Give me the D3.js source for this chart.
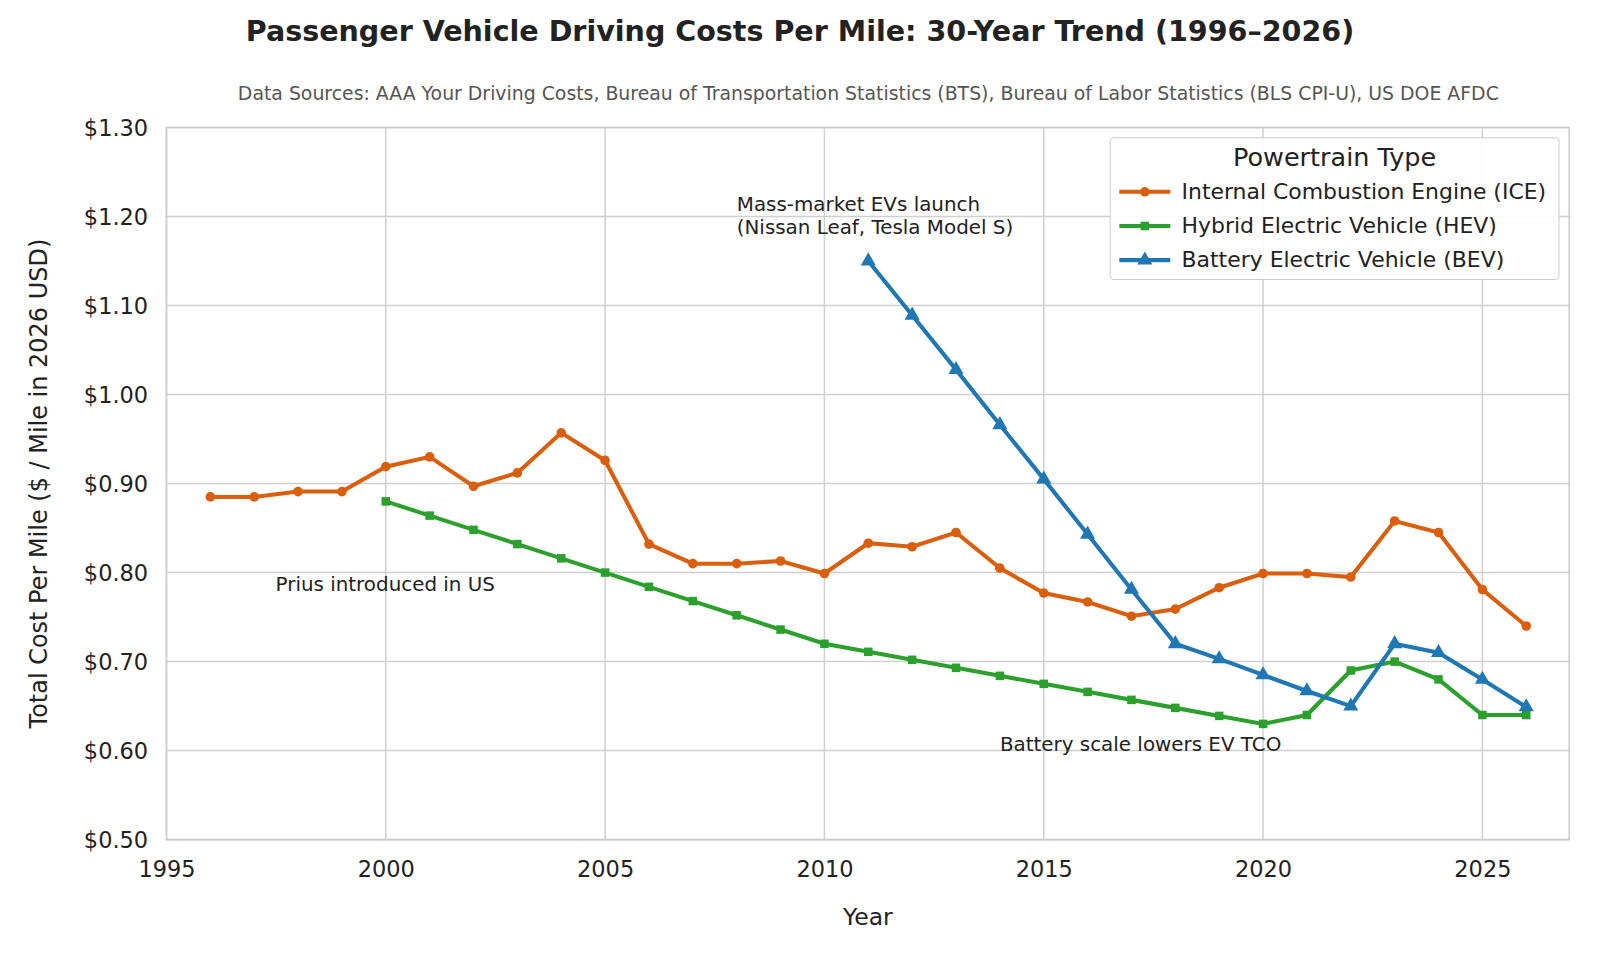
<!DOCTYPE html><html><head><meta charset="utf-8"><script src="https://cdn.jsdelivr.net/npm/d3@7"></script>
<style>body{margin:0;background:#fff}text{font-family:"DejaVu Sans",sans-serif}</style></head><body><svg id="c" width="1600" height="960" viewBox="0 0 1568 941"></svg>
<script>
const iceYears=d3.range(1996,2027);
const iceVals=[.885,.885,.891,.891,.919,.930,.897,.912,.957,.926,.832,.810,.810,.813,.799,.833,.829,.845,.805,.777,.767,.751,.759,.783,.799,.799,.795,.858,.845,.781,.740];
const hevYears=d3.range(2000,2027);
const hevVals=[.880,.864,.848,.832,.816,.800,.784,.768,.752,.736,.720,.711,.702,.693,.684,.675,.666,.657,.648,.639,.630,.640,.690,.700,.680,.640,.640];
const bevYears=d3.range(2011,2027);
const bevVals=[1.150,1.089,1.028,.966,.905,.843,.781,.720,.703,.685,.667,.650,.720,.710,.680,.649];
const xTicks=[1995,2000,2005,2010,2015,2020,2025];
const yTicks=[.5,.6,.7,.8,.9,1.0,1.1,1.2,1.3];
const series=[
 {name:"Internal Combustion Engine (ICE)",years:iceYears,vals:iceVals,color:"#d95f0e",sym:d3.symbolCircle},
 {name:"Hybrid Electric Vehicle (HEV)",years:hevYears,vals:hevVals,color:"#2ca02c",sym:d3.symbolSquare},
 {name:"Battery Electric Vehicle (BEV)",years:bevYears,vals:bevVals,color:"#1f77b4",sym:d3.symbolTriangle}];
const svg=d3.select("#c");
const L=163,R=1538,T=125,B=823;
const x=d3.scaleLinear().domain([1995,2026.98]).range([L,R]);
const y=d3.scaleLinear().domain([.5,1.3]).range([B,T]);
const g=svg.append("g");
g.selectAll(".gx").data(xTicks).join("line").attr("x1",d=>x(d)).attr("x2",d=>x(d)).attr("y1",T).attr("y2",B).attr("stroke","#d0d0d0").attr("stroke-width",1.5);
g.selectAll(".gy").data(yTicks).join("line").attr("y1",d=>y(d)).attr("y2",d=>y(d)).attr("x1",L).attr("x2",R).attr("stroke","#d0d0d0").attr("stroke-width",1.5);
g.append("rect").attr("x",L).attr("y",T).attr("width",R-L).attr("height",B-T).attr("fill","none").attr("stroke","#ccc").attr("stroke-width",1.5);
const xa=svg.append("g").attr("transform",`translate(0,${B})`).call(d3.axisBottom(x).tickValues(xTicks).tickFormat(d3.format("d")).tickSize(0).tickPadding(21));
const ya=svg.append("g").attr("transform",`translate(${L},0)`).call(d3.axisLeft(y).tickValues(yTicks).tickFormat(d=>"$"+d.toFixed(2)).tickSize(0).tickPadding(18));
[xa,ya].forEach(a=>{a.select(".domain").remove();a.selectAll("text").attr("font-size",22).attr("fill","#222")});
ya.selectAll("text").attr("dy","0.35em");
series.forEach(s=>{
 const pts=s.years.map((yr,i)=>[yr,s.vals[i]]);
 svg.append("path").attr("d",d3.line().x(d=>x(d[0])).y(d=>y(d[1]))(pts)).attr("fill","none").attr("stroke",s.color).attr("stroke-width",4);
 svg.selectAll(null).data(pts).join("path").attr("transform",d=>`translate(${x(d[0])},${y(d[1])})`).attr("d",d3.symbol(s.sym,s.sym===d3.symbolTriangle?95:70)).attr("fill",s.color);
});
svg.append("text").attr("x",784).attr("y",40).attr("text-anchor","middle").attr("font-size",28).attr("font-weight","bold").attr("fill","#222").text("Passenger Vehicle Driving Costs Per Mile: 30-Year Trend (1996–2026)");
svg.append("text").attr("x",851).attr("y",98).attr("text-anchor","middle").attr("font-size",18.5).attr("fill","#555").text("Data Sources: AAA Your Driving Costs, Bureau of Transportation Statistics (BTS), Bureau of Labor Statistics (BLS CPI-U), US DOE AFDC");
svg.append("text").attr("x",(L+R)/2).attr("y",907).attr("text-anchor","middle").attr("font-size",23).attr("fill","#222").text("Year");
svg.append("text").attr("transform",`translate(46,${(T+B)/2}) rotate(-90)`).attr("text-anchor","middle").attr("font-size",23.5).attr("fill","#222").text("Total Cost Per Mile ($ / Mile in 2026 USD)");
const ann=(t,xx,yy)=>svg.append("text").attr("x",xx).attr("y",yy).attr("font-size",19.5).attr("fill","#222").text(t);
ann("Prius introduced in US",270,579);
ann("Mass-market EVs launch",722,207);
ann("(Nissan Leaf, Tesla Model S)",722,229);
ann("Battery scale lowers EV TCO",980,736);
const lg=svg.append("g");
lg.append("rect").attr("x",1088).attr("y",135).attr("width",440).attr("height",139).attr("rx",4).attr("fill","#fff").attr("fill-opacity",.9).attr("stroke","#ccc");
lg.append("text").attr("x",1308).attr("y",163).attr("text-anchor","middle").attr("font-size",25).attr("fill","#222").text("Powertrain Type");
series.forEach((s,i)=>{const yy=188+i*33.5;
 lg.append("line").attr("x1",1097).attr("x2",1147).attr("y1",yy).attr("y2",yy).attr("stroke",s.color).attr("stroke-width",4);
 lg.append("path").attr("transform",`translate(1122,${yy})`).attr("d",d3.symbol(s.sym,s.sym===d3.symbolTriangle?95:70)).attr("fill",s.color);
 lg.append("text").attr("x",1158).attr("y",yy+7).attr("font-size",21.5).attr("fill","#222").text(s.name);});
</script></body></html>
